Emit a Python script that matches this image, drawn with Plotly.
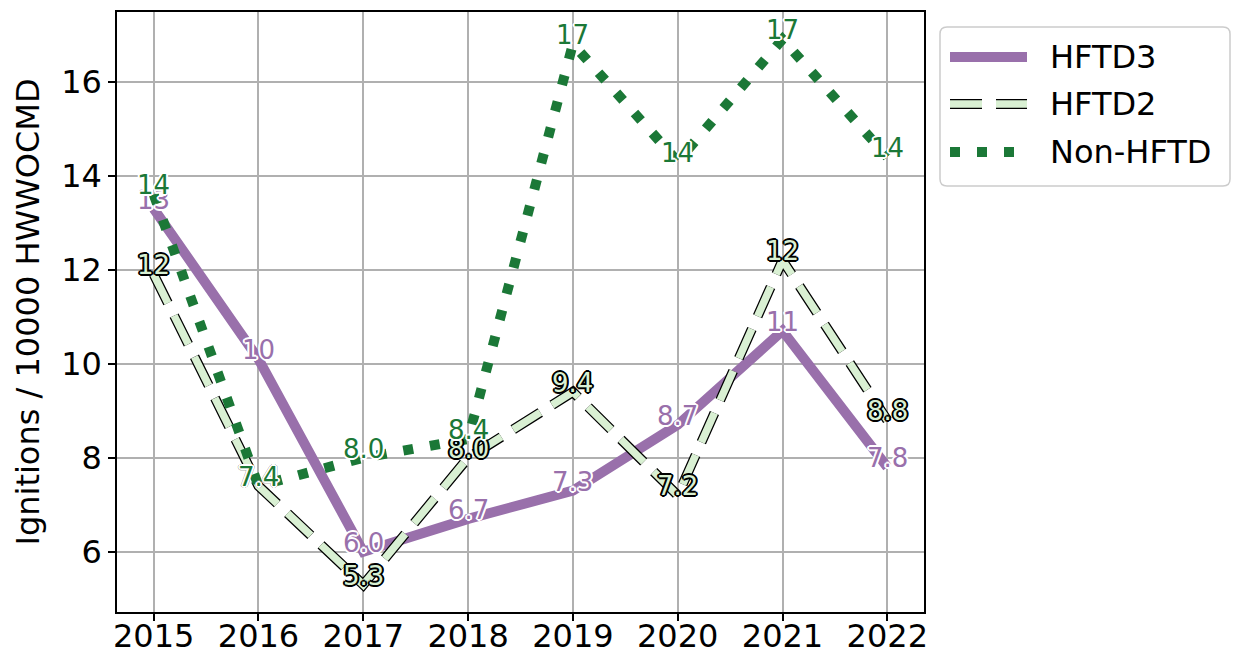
import plotly.graph_objects as go

# Ignition rates per 10000 high-wind-warning / outage-condition mile-days
years = [2015, 2016, 2017, 2018, 2019, 2020, 2021, 2022]
hftd3 = [13.3, 10.1, 6.0, 6.7, 7.3, 8.7, 10.7, 7.8]
hftd2 = [11.9, 7.4, 5.3, 8.0, 9.4, 7.2, 12.2, 8.8]
non_hftd = [13.6, 7.4, 8.0, 8.4, 16.8, 14.3, 16.9, 14.4]
series_names = ["HFTD3", "HFTD2", "Non-HFTD"]
y_ticks = [6, 8, 10, 12, 14, 16]

PURPLE = "#9970ab"
LIGHT_GREEN = "#d9f0d3"
DARK_GREEN = "#1b7837"
FONT = "DejaVu Sans"

# plot-area geometry in pixels (used for the hand-drawn legend)
W_FIG, H_FIG = 1238, 658
L, R, T, B = 117, 924, 12, 612
PW, PH = R - L, B - T


def fx(x):
    return (x - L) / PW


def fy(y):
    return (B - y) / PH


def fmt(v):
    return f"{v:.0f}" if v >= 10 else f"{v:.1f}"


def outline(color, w=2):
    parts = []
    for dx, dy in [(w, 0), (-w, 0), (0, w), (0, -w),
                   (w * 0.7, w * 0.7), (-w * 0.7, -w * 0.7),
                   (w * 0.7, -w * 0.7), (-w * 0.7, w * 0.7)]:
        parts.append(f"{dx:.1f}px {dy:.1f}px 0px {color}")
    return ", ".join(parts)


HFTD2_DASH = "32px,14px"
NON_DASH = "10px,17px"

fig = go.Figure()

# lines
fig.add_trace(go.Scatter(x=years, y=hftd3, mode="lines", name=series_names[0],
                         line=dict(color=PURPLE, width=10), showlegend=False))
fig.add_trace(go.Scatter(x=years, y=hftd2, mode="lines", name=series_names[1] + " outline",
                         line=dict(color="black", width=10, dash=HFTD2_DASH), showlegend=False))
fig.add_trace(go.Scatter(x=years, y=hftd2, mode="lines", name=series_names[1],
                         line=dict(color=LIGHT_GREEN, width=7.5, dash=HFTD2_DASH), showlegend=False))
fig.add_trace(go.Scatter(x=years, y=non_hftd, mode="lines", name=series_names[2],
                         line=dict(color=DARK_GREEN, width=10, dash=NON_DASH), showlegend=False))

# value labels, baseline sitting on each point
label_specs = [
    (hftd3, PURPLE, outline("white", 2)),
    (hftd2, LIGHT_GREEN, outline("black", 2)),
    (non_hftd, DARK_GREEN, outline("white", 2)),
]
for vals, col, shadow in label_specs:
    for yr, v in zip(years, vals):
        fig.add_annotation(x=yr, y=v, xref="x", yref="y", text=fmt(v),
                           showarrow=False, xanchor="center", yanchor="bottom",
                           yshift=-7, borderpad=0,
                           font=dict(family=FONT, size=26, color=col, shadow=shadow))

y_pad = 0.05 * (max(non_hftd) - min(hftd2))
fig.update_layout(
    width=W_FIG, height=H_FIG,
    margin=dict(l=L, r=W_FIG - R, t=T, b=H_FIG - B),
    paper_bgcolor="white", plot_bgcolor="white",
    font=dict(family=FONT, size=32, color="black"),
    showlegend=False,
    xaxis=dict(range=[years[0] - 0.35, years[-1] + 0.35], tickvals=years,
               ticktext=[str(y) for y in years],
               showgrid=True, gridcolor="#b0b0b0", gridwidth=1.5,
               showline=True, linecolor="black", linewidth=1.5, mirror=True,
               ticks="outside", ticklen=7, tickwidth=1.5, tickcolor="black",
               zeroline=False, automargin=False, ticklabelstandoff=-12,
               tickfont=dict(family=FONT, size=32)),
    yaxis=dict(range=[min(hftd2) - y_pad, max(non_hftd) + y_pad], tickvals=y_ticks,
               showgrid=True, gridcolor="#b0b0b0", gridwidth=1.5,
               showline=True, linecolor="black", linewidth=1.5, mirror=True,
               ticks="outside", ticklen=7, tickwidth=1.5, tickcolor="black",
               zeroline=False, automargin=False,
               tickfont=dict(family=FONT, size=32),
               title=dict(text="Ignitions / 10000 HWWOCMD", standoff=12,
                          font=dict(family=FONT, size=32))),
)

# legend drawn in paper coordinates
bx0, bx1, by0, by1 = 940, 1230, 27, 186
r = 7
rx, ry = r / PW, r / PH
X0, X1, Y0, Y1 = fx(bx0), fx(bx1), fy(by1), fy(by0)
path = (f"M {X0 + rx},{Y0} L {X1 - rx},{Y0} Q {X1},{Y0} {X1},{Y0 + ry} "
        f"L {X1},{Y1 - ry} Q {X1},{Y1} {X1 - rx},{Y1} "
        f"L {X0 + rx},{Y1} Q {X0},{Y1} {X0},{Y1 - ry} "
        f"L {X0},{Y0 + ry} Q {X0},{Y0} {X0 + rx},{Y0} Z")
fig.add_shape(type="path", path=path, xref="paper", yref="paper",
              line=dict(color="#cccccc", width=1.5), fillcolor="white", layer="above")

rows = [57, 104, 152]
lx0, lx1 = 950, 1027
fig.add_shape(type="line", xref="paper", yref="paper", x0=fx(lx0), x1=fx(lx1),
              y0=fy(rows[0]), y1=fy(rows[0]), line=dict(color=PURPLE, width=10), layer="above")
fig.add_shape(type="line", xref="paper", yref="paper", x0=fx(lx0), x1=fx(lx1),
              y0=fy(rows[1]), y1=fy(rows[1]),
              line=dict(color="black", width=10, dash=HFTD2_DASH), layer="above")
fig.add_shape(type="line", xref="paper", yref="paper", x0=fx(lx0), x1=fx(lx1),
              y0=fy(rows[1]), y1=fy(rows[1]),
              line=dict(color=LIGHT_GREEN, width=7.5, dash=HFTD2_DASH), layer="above")
fig.add_shape(type="line", xref="paper", yref="paper", x0=fx(lx0), x1=fx(lx1),
              y0=fy(rows[2]), y1=fy(rows[2]),
              line=dict(color=DARK_GREEN, width=10, dash=NON_DASH), layer="above")
for name, ry_ in zip(series_names, rows):
    fig.add_annotation(text=name, xref="paper", yref="paper", x=fx(1048), y=fy(ry_),
                       xanchor="left", yanchor="middle", showarrow=False,
                       font=dict(family=FONT, size=32, color="black"))

fig.write_html("out.html")
